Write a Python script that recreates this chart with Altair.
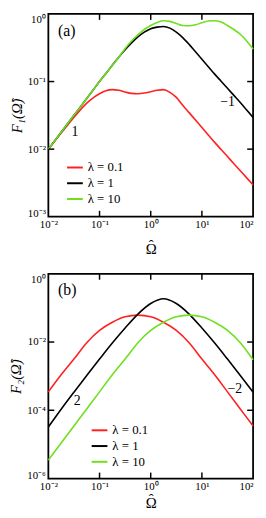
import altair as alt
import pandas as pd

SERIF = "Liberation Serif"
LAMBDAS = ["λ = 0.1", "λ = 1", "λ = 10"]
COLORS = ["#ff2020", "#000000", "#6ee020"]

# ---------- panel (a): log10(Omega) grid and log10(F1)
log_omega_a = [-2.0, -1.875, -1.75, -1.625, -1.5, -1.375, -1.25, -1.125, -1.0,
               -0.875, -0.75, -0.625, -0.5, -0.375, -0.25, -0.125, 0.0,
               0.125, 0.25, 0.375, 0.5, 0.625, 0.75, 0.875, 1.0,
               1.125, 1.25, 1.375, 1.5, 1.625, 1.75, 1.875, 2.0]
log_f1_red = [-2.00, -1.88, -1.76, -1.645, -1.53, -1.42, -1.32, -1.24, -1.18,
              -1.135, -1.12, -1.13, -1.155, -1.175, -1.18, -1.17, -1.15,
              -1.13, -1.12, -1.16, -1.235, -1.35, -1.46, -1.57, -1.68,
              -1.79, -1.90, -2.005, -2.11, -2.215, -2.32, -2.425, -2.53]
log_f1_black = [-2.00, -1.875, -1.75, -1.625, -1.50, -1.375, -1.25, -1.125, -1.00,
                -0.88, -0.76, -0.64, -0.53, -0.43, -0.34, -0.27, -0.22,
                -0.195, -0.185, -0.21, -0.27, -0.35, -0.45, -0.56, -0.67,
                -0.78, -0.89, -0.995, -1.10, -1.205, -1.31, -1.42, -1.53]
log_f1_green = [-2.00, -1.875, -1.75, -1.625, -1.50, -1.375, -1.25, -1.125, -1.00,
                -0.88, -0.76, -0.64, -0.51, -0.40, -0.31, -0.23, -0.17,
                -0.125, -0.10, -0.11, -0.14, -0.17, -0.175, -0.16, -0.13,
                -0.105, -0.10, -0.12, -0.17, -0.23, -0.30, -0.40, -0.52]

# ---------- panel (b)
log_omega_b = [-2.0, -1.75, -1.5, -1.25, -1.0, -0.75, -0.5, -0.25, 0.0,
               0.25, 0.5, 0.75, 1.0, 1.25, 1.5, 1.75, 2.0]
log_f2_red = [-3.46, -2.96, -2.50, -2.02, -1.66, -1.42, -1.26, -1.21, -1.26,
              -1.42, -1.66, -2.02, -2.50, -2.96, -3.46, -3.96, -4.46]
log_f2_black = [-4.49, -3.97, -3.47, -2.98, -2.50, -2.03, -1.59, -1.18, -0.87,
                -0.73, -0.87, -1.18, -1.59, -2.03, -2.50, -2.98, -3.47]
log_f2_green = [-5.46, -4.96, -4.46, -3.96, -3.46, -2.96, -2.50, -2.02, -1.66,
                -1.42, -1.26, -1.21, -1.26, -1.42, -1.66, -2.02, -2.52]

# slope annotations (position in data units) and panel tags
notes_a_text = ["1", "−1"]
notes_a_omega = [0.033, 31.6]
notes_a_f = [0.018, 0.05]
notes_b_text = ["2", "−2"]
notes_b_omega = [0.0366, 44.0]
notes_b_f = [1.86e-4, 4.1e-4]
tag_a = ("(a)", 0.0155, 0.56)
tag_b = ("(b)", 0.0155, 0.33)

x_ticks = [0.1, 1.0, 10.0]
y_ticks_a = [0.01, 0.1]
y_ticks_b = [1e-4, 1e-2]
x_label_values = [0.01, 0.1, 1.0, 10.0, 100.0]
y_label_values_a = [0.001, 0.01, 0.1, 1.0]
y_label_values_b = [1e-6, 1e-4, 1e-2, 1.0]

X_TITLE = ["ˆ", "Ω"]


def long_table(log_x, series):
    rows = []
    for lam, ys in zip(LAMBDAS, series):
        for lx, ly in zip(log_x, ys):
            rows.append({"omega": 10 ** lx, "F": 10 ** ly, "lam": lam})
    return pd.DataFrame(rows)


SUP = ("e == -6 ? '10⁻⁶' : e == -5 ? '10⁻⁵' : e == -4 ? '10⁻⁴' : e == -3 ? '10⁻³' : "
       "e == -2 ? '10⁻²' : e == -1 ? '10⁻¹' : e == 0 ? '10⁰' : e == 1 ? '10¹' : '10²'")
LABEL_EXPR = SUP.replace("e ==", "round(log(datum.value)/LN10) ==")


def panel(df, ydom, ylab_values, ytick_vals, ytitle, notes, tag, height, legx, legy,
          row_pad, xtitle_pad):
    W = 208
    xs = alt.Scale(type="log", domain=[0.01, 100], nice=False)
    ys = alt.Scale(type="log", domain=ydom, nice=False)
    cs = alt.Scale(domain=LAMBDAS, range=COLORS)
    ymin = ydom[0]

    xaxis = alt.Axis(
        values=x_label_values, labelExpr=LABEL_EXPR, ticks=False, domain=False,
        grid=False, title=X_TITLE, labelFont=SERIF, labelFontSize=11,
        labelColor="black", labelPadding=2, labelFlush=False,
        labelAlign={"condition": {"test": "datum.value >= 100", "value": "right"},
                    "value": "center"},
        titleFont=SERIF, titleFontSize=15, titleFontWeight="normal",
        titleColor="black", titlePadding=xtitle_pad, titleLineHeight=4)
    yaxis = alt.Axis(
        values=ylab_values, labelExpr=LABEL_EXPR, ticks=False, domain=False,
        grid=False, title=ytitle, labelFont=SERIF, labelFontSize=11,
        labelColor="black", labelPadding=3, labelFlush=False,
        labelBaseline={"condition": {"test": "datum.value >= 1", "value": "top"},
                       "value": "middle"},
        labelOffset={"condition": {"test": f"datum.value <= {ymin}", "value": -3},
                     "value": 0},
        titleFont=SERIF, titleFontSize=15, titleFontWeight="normal",
        titleFontStyle="italic",
        titleColor="black", titlePadding=3)

    X = lambda: alt.X("omega:Q", scale=xs, axis=xaxis, title=X_TITLE)
    Y = lambda: alt.Y("F:Q", scale=ys, axis=yaxis, title=ytitle)

    lines = alt.Chart(df).mark_line(strokeWidth=1.6, interpolate="monotone").encode(
        x=X(), y=Y(),
        color=alt.Color("lam:N", scale=cs, legend=alt.Legend(
            orient="none", legendX=legx, legendY=legy, title=None,
            symbolType="stroke", symbolSize=256, symbolStrokeWidth=2,
            labelFont=SERIF, labelFontSize=13, labelColor="black",
            labelOffset=4, rowPadding=row_pad, padding=0)),
        order=alt.Order("omega:Q"),
    )

    xt = pd.DataFrame({"omega": x_ticks})
    yt = pd.DataFrame({"F": ytick_vals})
    rule = dict(color="black", strokeWidth=1.5)
    xtop = alt.Chart(xt).mark_rule(**rule).encode(x=X(), y=alt.value(0), y2=alt.value(6))
    xbot = alt.Chart(xt).mark_rule(**rule).encode(
        x=X(), y=alt.value(height), y2=alt.value(height - 6))
    yleft = alt.Chart(yt).mark_rule(**rule).encode(y=Y(), x=alt.value(0), x2=alt.value(6))
    yright = alt.Chart(yt).mark_rule(**rule).encode(
        y=Y(), x=alt.value(W), x2=alt.value(W - 6))

    nd = pd.DataFrame({"omega": notes[1], "F": notes[2], "txt": notes[0]})
    note_layer = alt.Chart(nd).mark_text(font=SERIF, fontSize=14, color="black").encode(
        x=X(), y=Y(), text="txt:N")
    td = pd.DataFrame({"omega": [tag[1]], "F": [tag[2]], "txt": [tag[0]]})
    tag_layer = alt.Chart(td).mark_text(font=SERIF, fontSize=16, color="black",
                                        align="left").encode(
        x=X(), y=Y(), text="txt:N")

    return alt.layer(lines, xtop, xbot, yleft, yright, note_layer, tag_layer).properties(
        width=W, height=height)


df_a = long_table(log_omega_a, [log_f1_red, log_f1_black, log_f1_green])
df_b = long_table(log_omega_b, [log_f2_red, log_f2_black, log_f2_green])

pa = panel(df_a, [1e-3, 1], y_label_values_a, y_ticks_a, "F₁(Ω̂)",
           (notes_a_text, notes_a_omega, notes_a_f), tag_a, 206, 18, 147, 0, 8)
pb = panel(df_b, [1e-6, 1], y_label_values_b, y_ticks_b, "F₂(Ω̂)",
           (notes_b_text, notes_b_omega, notes_b_f), tag_b, 208, 43, 150, -1.5, 0)

chart = alt.vconcat(pa, pb, spacing=15).resolve_scale(color="independent").resolve_legend(
    color="independent").properties(
    padding={"left": 0, "top": 0, "right": 0, "bottom": 0},
    background="white").configure_view(stroke="black", strokeWidth=1.8)

chart.save("out.html", embed_options={"renderer": "svg", "actions": False})
